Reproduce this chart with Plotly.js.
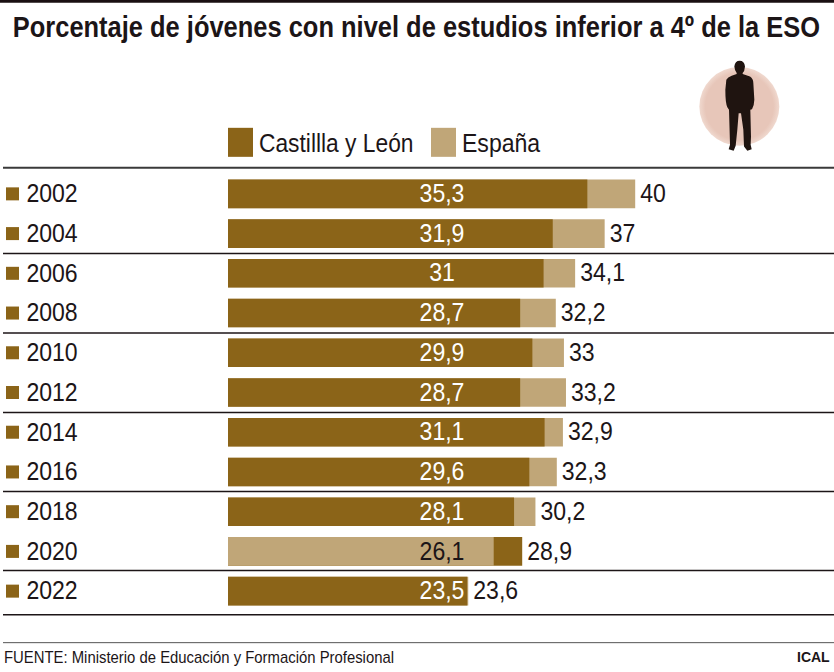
<!DOCTYPE html>
<html><head><meta charset="utf-8">
<script src="https://cdn.plot.ly/plotly-3.0.0.min.js"></script>
<style>html,body{margin:0;padding:0;background:#fff}#c{width:834px;height:672px}</style>
</head><body><div id="c"></div>
<script>
const years = ['2002','2004','2006','2008','2010','2012','2014','2016','2018','2020','2022'];
const castilla = [35.3,31.9,31,28.7,29.9,28.7,31.1,29.6,28.1,28.9,23.5];
const espana = [40,37,34.1,32.2,33,33.2,32.9,32.3,30.2,26.1,23.6];
const titleText = 'Porcentaje de jóvenes con nivel de estudios inferior a 4º de la ESO';
const sourceText = 'FUENTE: Ministerio de Educación y Formación Profesional';
const creditText = 'ICAL';
const seriesNames = ['Castillla y León','España'];

const DARK='#8b6418', TAN='#c0a678', INK='#1c1517';
const SANS='"Liberation Sans",Arial,sans-serif';
const L=228,W=606,T=174.15,H=436.7;
const px=x=>(x-L)/W, py=y=>(T+H-y)/H;
const fmt=v=>String(v).replace('.',',');
const UNIT=10.18;
const xMax=W/UNIT;
const xOf=x=>(x-L)/UNIT;

const inFront=espana.map((v,i)=>v<castilla[i]);
const traces=[
 {type:'bar',orientation:'h',name:seriesNames[1],y:years,x:espana.map((v,i)=>inFront[i]?null:v),marker:{color:TAN},hoverinfo:'x+y'},
 {type:'bar',orientation:'h',name:seriesNames[0],y:years,x:castilla,marker:{color:DARK},hoverinfo:'x+y'},
 {type:'bar',orientation:'h',name:seriesNames[1],y:years,x:espana.map((v,i)=>inFront[i]?v:null),marker:{color:TAN},hoverinfo:'x+y'},
 {type:'scatter',mode:'text',y:years,x:years.map(()=>xOf(442)),
  text:years.map((_,i)=>fmt(inFront[i]?espana[i]:castilla[i])),textposition:'middle center',
  textfont:{family:SANS,size:26.5,color:years.map((_,i)=>inFront[i]?INK:'#ffffff')},hoverinfo:'skip'},
 {type:'scatter',mode:'text',y:years,x:years.map((_,i)=>Math.max(castilla[i],espana[i])+5/UNIT),
  text:years.map((_,i)=>fmt(inFront[i]?castilla[i]:espana[i])),textposition:'middle right',cliponaxis:false,
  textfont:{family:SANS,size:26.5,color:INK},hoverinfo:'skip'}
];

const hline=(y,c,w,x0)=>({type:'line',xref:'paper',yref:'paper',x0:px(x0===undefined?3:x0),x1:px(834),y0:py(y),y1:py(y),line:{color:c,width:w},layer:'above'});
const rect=(x0,y0,x1,y1,c)=>({type:'rect',xref:'paper',yref:'paper',x0:px(x0),x1:px(x1),y0:py(y1),y1:py(y0),fillcolor:c,line:{width:0},layer:'above'});
const yearMarks=years.map((yr,i)=>{const c=T+H*(i+0.5)/years.length;return rect(6,c-6.5,19,c+6.5,DARK);});
const shapes=[
 rect(0,0,834,3,'#1a1012'),
 hline(168,'#3a3a3a',2),
 hline(253.5,INK,1.5),hline(333,INK,1.5),hline(412.5,INK,1.5),hline(491.5,INK,1.5),hline(570.5,INK,1.5),hline(614.5,INK,1.5),
 hline(642.5,'#555',1),
 rect(228,128,253,157,DARK),
 rect(431,128,456,157,TAN),
 ...yearMarks
];
const note=(x,y,text,size,xanchor,bold)=>({xref:'paper',yref:'paper',x:px(x),y:py(y),xanchor:xanchor||'left',yanchor:'middle',showarrow:false,
  text:bold?'<b>'+text+'</b>':text,font:{family:SANS,size:size,color:INK},align:'left'});
const annotations=[
 note(416,27,titleText,30,'center',true),
 note(257,143,seriesNames[0],26.5),
 note(460,143,seriesNames[1],26.5),
 note(2,657,sourceText,16),
 note(832,657,creditText,14,'right',true)
];
const person='<svg xmlns="http://www.w3.org/2000/svg" width="300" height="330" viewBox="0 0 300 330"><defs><radialGradient id="g"><stop offset="0.85" stop-color="#e7c6b9"/><stop offset="1" stop-color="#f0d9cf"/></radialGradient></defs><ellipse cx="148" cy="170" rx="120" ry="118" fill="url(#g)"/><path fill="#1f1410" d="M133 50Q135 33 149 33Q163 33 165 50Q164 64 158 70L158 73L180 80Q190 86 190 100L193 150Q193 165 186 178L181 180L183 260L182 285L185 298L172 303L162 290L160 240L153 190L146 190L142 240L137 288L131 303L116 298L120 285L117 180L112 172Q106 160 106 120L109 90Q113 82 125 78L140 73L140 70Q134 62 133 50Z"/></svg>';
const images=[{source:'data:image/svg+xml;base64,'+btoa(person),xref:'paper',yref:'paper',x:px(690),y:py(50),sizex:100/W,sizey:110/H,sizing:'stretch',xanchor:'left',yanchor:'top',layer:'above'}];

const layout={
 width:834,height:672,margin:{l:L,r:0,t:T,b:672-T-H,pad:0},
 paper_bgcolor:'#fff',plot_bgcolor:'rgba(0,0,0,0)',showlegend:false,
 barmode:'overlay',bargap:0.28,
 xaxis:{range:[0,xMax],visible:false,fixedrange:true},
 yaxis:{type:'category',categoryorder:'array',categoryarray:years,range:[10.5,-0.5],showgrid:false,zeroline:false,showline:false,
   ticks:'outside',ticklen:144,tickcolor:'rgba(0,0,0,0)',tickwidth:1,tickfont:{family:SANS,size:26.5,color:INK},fixedrange:true},
 shapes,annotations,images
};
// The reference uses a condensed face; no condensed sans is installed, so texts are narrowed horizontally.
function condense(el,s,origin,dy){
  const b=el.getBBox();
  const a=origin||el.getAttribute('text-anchor')||'start';
  const ax=(a==='end'||a==='right')?b.x+b.width:(a==='middle'||a==='center')?b.x+b.width/2:b.x;
  const old=el.getAttribute('transform')||'';
  el.setAttribute('transform',`translate(0,${dy||0}) ${old} translate(${ax},0) scale(${s},1) translate(${-ax},0)`);
}
Plotly.newPlot('c',traces,layout,{displayModeBar:false,staticPlot:true}).then(gd=>{
  gd.querySelectorAll('.ytick text').forEach(t=>condense(t,0.87,'end',-1));
  gd.querySelectorAll('.textpoint text').forEach(t=>condense(t,0.87,null,1.5));
  const spec=[[0.849,'middle'],[0.86,'start'],[0.87,'start'],[0.93,'start'],[1,'end']];
  gd.querySelectorAll('.annotation').forEach(a=>{
    const i=+a.getAttribute('data-index'); const t=a.querySelector('text');
    if(t&&spec[i]) condense(t,spec[i][0],spec[i][1]);
  });
});
</script></body></html>
